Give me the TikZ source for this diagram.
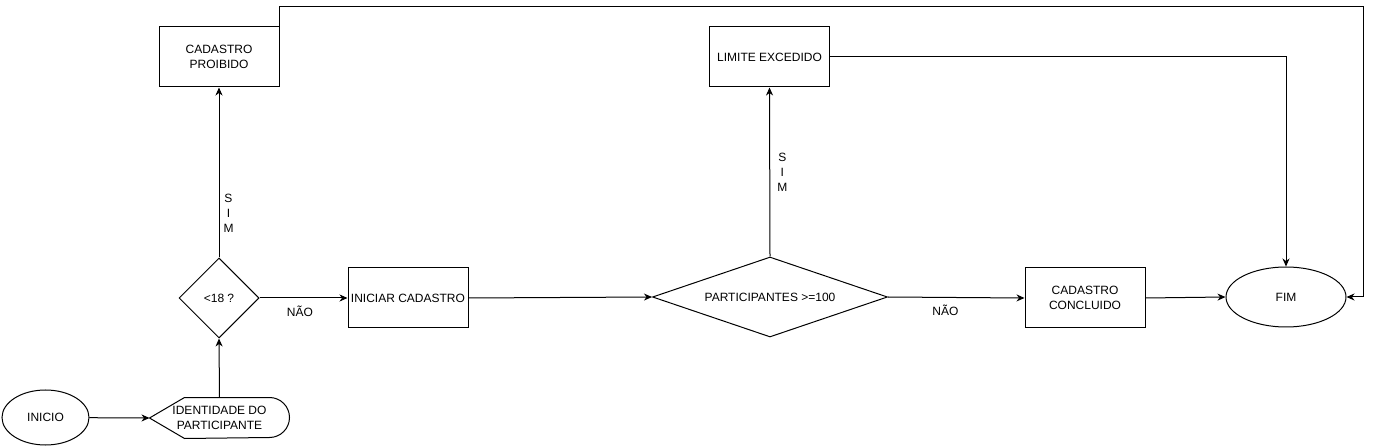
\documentclass[tikz,border=0pt]{standalone}
\usepackage{fontspec}
\setmainfont{Liberation Sans}
\usetikzlibrary{arrows.meta,positioning,calc,shapes.geometric}
\tikzset{
  base/.style={draw=black, line width=1pt, font=\fontsize{12}{15}\selectfont,
    align=center, inner sep=2pt},
  term/.style={base, ellipse, minimum width=120pt, minimum height=60pt},
  proc/.style={base, rectangle, minimum width=120pt, minimum height=60pt},
  decis/.style={base, diamond, minimum height=80pt},
  flow/.style={-{Stealth[length=8pt,width=7pt,inset=2.5pt]}, line width=1pt, draw=black},
  lbl/.style={font=\fontsize{12}{15}\selectfont, align=center, inner sep=1pt},
}
\begin{document}
\begin{tikzpicture}[x=1pt,y=-1pt]
  \useasboundingbox (0,0) rectangle (1374,446);
  % start and input
  \node[term, minimum width=87pt, minimum height=55pt] (inicio) at (45.5,417.5) {INICIO};
  \node[base, draw=none, minimum width=139pt, minimum height=40pt] (ident) at (219.5,418)
      {IDENTIDADE DO\\PARTICIPANTE};
  \draw[line width=1pt] (ident.west) -- ($(ident.north west)+(35,0)$)
      -- ($(ident.north east)+(-20,0)$) arc[start angle=-90, end angle=90, radius=20]
      -- ($(ident.south west)+(35,0)$) -- cycle;
  % decisions and steps
  \node[decis, minimum width=80pt] (d18) at (219,298) {<18 ?};
  \node[proc] (proib) at (219,57) {CADASTRO\\PROIBIDO};
  \node[proc] (iniciar) at (408,298) {INICIAR CADASTRO};
  \node[decis, minimum width=235pt, aspect=2.9375] (dpart) at (770,297) {PARTICIPANTES >=100};
  \node[proc] (limite) at (769.5,57) {LIMITE EXCEDIDO};
  \node[proc] (concl) at (1085,298) {CADASTRO\\CONCLUIDO};
  \node[term] (fim) at (1286,297) {FIM};
  \coordinate (tr) at (1363,7);
  % connectors
  \draw[flow] (inicio) -- (ident.west);
  \draw[flow] (ident.north) -- (d18.south);
  \draw[flow] (d18.north) -- node[lbl, pos=0.26, right=3pt] {S\\I\\M} (proib.south);
  \draw[flow] (d18.east) -- node[lbl, pos=0.46, below=6pt] {NÃO} (iniciar.west);
  \draw[flow] (iniciar.east) -- (dpart.west);
  \draw[flow] (dpart.north) -- node[lbl, pos=0.5, right=6pt] {S\\I\\M} (limite.south);
  \draw[flow] (dpart.east) -- node[lbl, pos=0.42, below=6pt] {NÃO} (concl.west);
  \draw[flow] (concl.east) -- (fim.west);
  \draw[flow] (limite.east) -| (fim.north);
  \draw[flow] (proib.north east) |- (tr) |- (fim.east);
\end{tikzpicture}
\end{document}
